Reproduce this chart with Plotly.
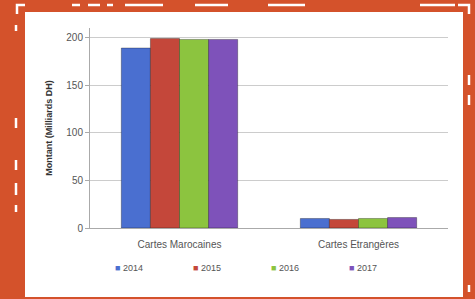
import plotly.graph_objects as go

categories = ["Cartes Marocaines", "Cartes Etrangères"]
years = ["2014", "2015", "2016", "2017"]
values_2014 = [189, 10]
values_2015 = [199, 9]
values_2016 = [198, 10]
values_2017 = [198, 11]
series = [values_2014, values_2015, values_2016, values_2017]
colors = ["#4A6FD0", "#C4473A", "#8CC43F", "#7E52BA"]
y_ticks = [0, 50, 100, 150, 200]

fig = go.Figure()
for name, vals, col in zip(years, series, colors):
    fig.add_trace(go.Bar(
        x=categories, y=vals, name=name, showlegend=False,
        marker=dict(color=col, line=dict(color="rgba(0,0,0,0.3)", width=1)),
    ))
# legend keys: small coloured square right before the label
for name, col in zip(years, colors):
    fig.add_trace(go.Scatter(
        x=[None], y=[None], mode="markers",
        name=f"<span style='color:{col}'>■</span> {name}",
        marker=dict(symbol="square", size=1, color="rgba(0,0,0,0)"),
    ))

ORANGE = "#D4522B"
W, H = 475, 299
L, R, T, B = 90, 27, 28, 71
pw, ph = W - L - R, H - T - B

def px(x):
    return (x - L) / pw
def py(y):
    return (H - B - y) / ph

fig.update_layout(
    width=W, height=H,
    paper_bgcolor=ORANGE, plot_bgcolor="white",
    margin=dict(l=L, r=R, t=T, b=B, autoexpand=False),
    barmode="group", bargap=0.35, bargroupgap=0.0,
    font=dict(family="Liberation Sans", size=10, color="#555555"),
    showlegend=True,
    legend=dict(orientation="h", x=px(75), xanchor="left", y=py(253), yanchor="top",
                font=dict(size=9, color="#555555"), entrywidth=33, itemwidth=30,
                bgcolor="rgba(0,0,0,0)", traceorder="normal"),
    xaxis=dict(showgrid=False, showline=True, linecolor="#AAAAAA", linewidth=1,
               ticks="", ticklabelstandoff=7, tickfont=dict(size=10, color="#555555")),
    yaxis=dict(range=[0, 210], tickvals=y_ticks, showgrid=True, gridcolor="#CCCCCC",
               showline=True, linecolor="#AAAAAA", linewidth=1, ticks="outside",
               ticklen=4, tickcolor="#AAAAAA", zeroline=False,
               tickfont=dict(size=10, color="#555555"),
               title=dict(text="<b>Montant (Milliards DH)</b>", font=dict(size=9, color="#333333"),
                          standoff=12)),
)

fig.add_shape(type="rect", xref="paper", yref="paper", layer="below",
              x0=px(25), x1=px(463), y0=py(297), y1=py(12),
              line=dict(width=0), fillcolor="white")

dash_h = [(72, 80), (88, 100), (107, 113), (125, 163), (195, 228), (268, 305), (420, 455)]
for a, b in dash_h:
    fig.add_shape(type="line", xref="paper", yref="paper", x0=px(a), x1=px(b), y0=py(5), y1=py(5),
                  line=dict(color="white", width=2.5))
dash_l = [(25, 31), (118, 128), (160, 170), (183, 195), (205, 212)]
for a, b in dash_l:
    fig.add_shape(type="line", xref="paper", yref="paper", x0=px(16), x1=px(16), y0=py(a), y1=py(b),
                  line=dict(color="white", width=2.5))
dash_r = [(75, 85), (95, 105), (285, 292)]
for a, b in dash_r:
    fig.add_shape(type="line", xref="paper", yref="paper", x0=px(469), x1=px(469), y0=py(a), y1=py(b),
                  line=dict(color="white", width=2.5))
fig.add_shape(type="path", xref="paper", yref="paper",
              path=f"M {px(17)} {py(14)} L {px(17)} {py(5)} L {px(25)} {py(5)}",
              line=dict(color="white", width=2.5))
fig.add_shape(type="path", xref="paper", yref="paper",
              path=f"M {px(458)} {py(5)} L {px(469)} {py(5)} L {px(469)} {py(14)}",
              line=dict(color="white", width=2.5))

fig.write_html("out.html", config={"displayModeBar": False},
               post_script="document.body.style.margin='0';document.body.style.overflow='hidden';")
